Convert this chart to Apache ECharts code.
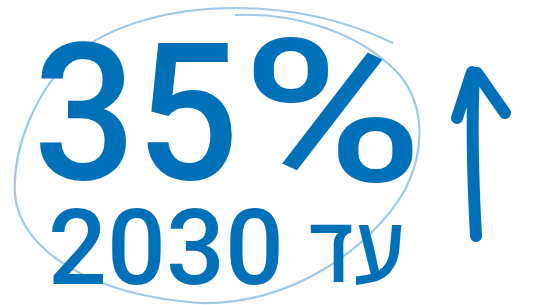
<!DOCTYPE html>
<html><head><meta charset="utf-8">
<script src="https://cdn.jsdelivr.net/npm/echarts@6/dist/echarts.min.js"></script>
<style>html,body{margin:0;padding:0;background:#fff}#c{width:549px;height:305px}</style>
</head><body><div id="c"></div>
<script>
const headlineValue = ['35'];
const headlineUnit = ['%'];
const targetYear = ['2030'];
const yearPrefix = ['עד'];

const blue = '#0070b8';
const light = '#a0c9e7';
const latinFamily = 'Roboto, "Open Sans", sans-serif';
const hebrewFamily = '"Open Sans", "DejaVu Sans", sans-serif';

function fit(text, family, weight, box) {
  const c = document.createElement('canvas').getContext('2d');
  c.textBaseline = 'middle';
  c.textAlign = 'left';
  let size = 100, m;
  for (let i = 0; i < 3; i++) {
    c.font = weight + ' ' + size + 'px ' + family;
    m = c.measureText(text);
    size = size * (box.b - box.t) / (m.actualBoundingBoxAscent + m.actualBoundingBoxDescent);
  }
  c.font = weight + ' ' + size + 'px ' + family;
  m = c.measureText(text);
  const sx = (box.r - box.l) / (m.actualBoundingBoxLeft + m.actualBoundingBoxRight);
  return {
    type: 'text', z: 5,
    x: box.l + sx * m.actualBoundingBoxLeft,
    y: box.t + m.actualBoundingBoxAscent,
    scaleX: sx,
    style: {text: text, font: weight + ' ' + size + 'px ' + family, fill: blue, textAlign: 'left', textVerticalAlign: 'middle'}
  };
}

echarts.graphic.registerShape('loopShape', echarts.graphic.extendPath('M 393 43 C 345 20, 290 8, 235 8 C 170 8, 110 25, 75 55 C 35 90, 12 150, 15 195 C 20 250, 90 295, 200 303 C 290 305, 370 250, 405 190 C 430 140, 420 95, 395 70 C 360 35, 300 12, 235 15', {}));
echarts.graphic.registerShape('arrowShape', echarts.graphic.extendPath('M 476 236 C 474 200, 471 130, 474 74 M 472 72 L 457 118 M 477 73 L 505 113', {}));

const chart = echarts.init(document.getElementById('c'), null, {renderer: 'canvas'});
chart.setOption({
  animation: false,
  graphic: [
    {type: 'loopShape', z: 1, style: {fill: null, stroke: light, lineWidth: 2.2}},
    fit(headlineValue[0], latinFamily, 500, {l: 40, r: 232, t: 41, b: 181}),
    fit(headlineUnit[0], latinFamily, 500, {l: 253, r: 413, t: 37, b: 182}),
    fit(targetYear[0], latinFamily, 500, {l: 52, r: 279, t: 208, b: 286}),
    fit(yearPrefix[0], hebrewFamily, 600, {l: 310, r: 402, t: 224, b: 286}),
    {type: 'arrowShape', z: 5, style: {fill: null, stroke: blue, lineWidth: 12, lineCap: 'round', lineJoin: 'round'}}
  ]
});
</script></body></html>
